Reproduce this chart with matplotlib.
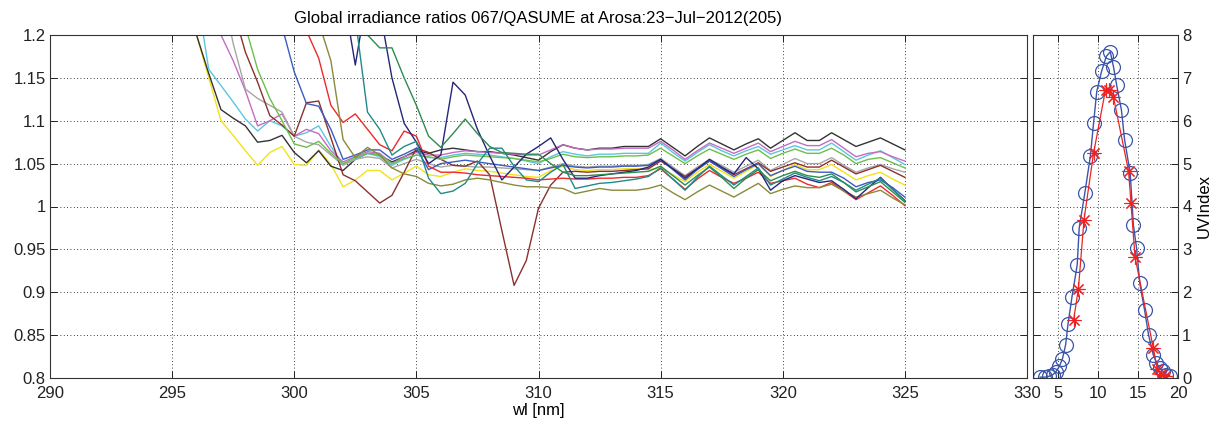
import matplotlib
matplotlib.use('Agg')
import matplotlib.pyplot as plt
from matplotlib.ticker import FormatStrFormatter
import numpy as np

plt.rcParams['font.family'] = ['Liberation Sans', 'DejaVu Sans']

# wavelength grid [nm], 0.5 nm steps (values above 1.2 are off-scale)
wl = np.arange(295.0, 325.01, 0.5)

r_yellow = [1.40, 1.30, 1.20, 1.15, 1.10, 1.083, 1.065, 1.048, 1.063, 1.070, 1.049, 1.048, 1.066, 1.049, 1.023, 1.031, 1.042, 1.042, 1.031, 1.039, 1.047, 1.037,
            1.035, 1.040, 1.044, 1.042, 1.041, 1.039, 1.037, 1.035, 1.034, 1.042, 1.047, 1.043, 1.042, 1.043, 1.043, 1.044, 1.044, 1.043, 1.045, 1.037,
            1.029, 1.040, 1.049, 1.041, 1.033, 1.041, 1.049, 1.035, 1.042, 1.049, 1.043, 1.043, 1.049, 1.040, 1.031, 1.036, 1.040, 1.032, 1.025]
r_black = [1.40, 1.30, 1.20, 1.155, 1.113, 1.103, 1.094, 1.075, 1.077, 1.083, 1.063, 1.051, 1.065, 1.047, 1.042, 1.055, 1.062, 1.060, 1.052, 1.058, 1.065, 1.062,
           1.066, 1.068, 1.066, 1.064, 1.064, 1.062, 1.060, 1.057, 1.054, 1.064, 1.072, 1.068, 1.066, 1.068, 1.068, 1.070, 1.070, 1.070, 1.079, 1.069,
           1.059, 1.070, 1.080, 1.073, 1.066, 1.073, 1.079, 1.068, 1.077, 1.086, 1.077, 1.077, 1.086, 1.078, 1.070, 1.075, 1.080, 1.073, 1.066]
r_cyan = [1.50, 1.40, 1.25, 1.16, 1.141, 1.122, 1.102, 1.088, 1.100, 1.094, 1.082, 1.086, 1.094, 1.070, 1.049, 1.055, 1.062, 1.058, 1.048, 1.055, 1.060, 1.057,
          1.057, 1.060, 1.062, 1.061, 1.060, 1.058, 1.056, 1.053, 1.050, 1.058, 1.064, 1.061, 1.059, 1.061, 1.061, 1.062, 1.062, 1.062, 1.074, 1.063,
          1.053, 1.063, 1.072, 1.065, 1.059, 1.065, 1.070, 1.061, 1.066, 1.071, 1.066, 1.066, 1.074, 1.064, 1.054, 1.060, 1.065, 1.057, 1.049]
r_magenta = [1.60, 1.50, 1.40, 1.30, 1.20, 1.170, 1.135, 1.094, 1.100, 1.108, 1.082, 1.090, 1.085, 1.065, 1.052, 1.058, 1.064, 1.062, 1.050, 1.058, 1.063, 1.060,
             1.060, 1.063, 1.065, 1.064, 1.063, 1.062, 1.061, 1.060, 1.060, 1.066, 1.072, 1.068, 1.066, 1.067, 1.067, 1.068, 1.068, 1.068, 1.076, 1.066,
             1.055, 1.065, 1.074, 1.068, 1.062, 1.068, 1.074, 1.064, 1.070, 1.076, 1.071, 1.071, 1.078, 1.068, 1.058, 1.062, 1.064, 1.058, 1.053]
r_gray = [1.60, 1.50, 1.40, 1.32, 1.26, 1.19, 1.137, 1.126, 1.118, 1.110, 1.082, 1.075, 1.072, 1.060, 1.048, 1.055, 1.058, 1.056, 1.045, 1.050, 1.055, 1.050,
          1.046, 1.048, 1.047, 1.046, 1.046, 1.045, 1.044, 1.043, 1.042, 1.046, 1.050, 1.047, 1.046, 1.047, 1.047, 1.048, 1.048, 1.049, 1.056, 1.046,
          1.036, 1.046, 1.055, 1.048, 1.040, 1.047, 1.054, 1.042, 1.049, 1.056, 1.050, 1.050, 1.057, 1.048, 1.040, 1.045, 1.049, 1.044, 1.040]
r_maroon = [1.60, 1.50, 1.45, 1.40, 1.35, 1.23, 1.18, 1.145, 1.106, 1.095, 1.082, 1.121, 1.123, 1.080, 1.037, 1.030, 1.017, 1.004, 1.013, 1.040, 1.068, 1.063,
            1.055, 1.048, 1.047, 1.053, 1.037, 0.972, 0.908, 0.937, 0.998, 1.025, 1.040, 1.041, 1.040, 1.041, 1.041, 1.042, 1.043, 1.044, 1.053, 1.044,
            1.035, 1.044, 1.053, 1.045, 1.037, 1.044, 1.051, 1.041, 1.046, 1.051, 1.046, 1.046, 1.054, 1.046, 1.038, 1.043, 1.048, 1.041, 1.034]
r_green = [1.70, 1.60, 1.50, 1.45, 1.40, 1.30, 1.21, 1.16, 1.126, 1.100, 1.073, 1.069, 1.076, 1.062, 1.050, 1.057, 1.062, 1.060, 1.050, 1.056, 1.060, 1.058,
           1.055, 1.058, 1.060, 1.059, 1.058, 1.057, 1.056, 1.054, 1.052, 1.056, 1.061, 1.058, 1.057, 1.058, 1.058, 1.059, 1.059, 1.060, 1.068, 1.059,
           1.050, 1.059, 1.067, 1.061, 1.055, 1.061, 1.066, 1.056, 1.062, 1.067, 1.062, 1.062, 1.068, 1.060, 1.050, 1.055, 1.057, 1.051, 1.045]
r_blue = [1.90, 1.80, 1.70, 1.60, 1.50, 1.45, 1.40, 1.33, 1.26, 1.21, 1.157, 1.120, 1.117, 1.090, 1.055, 1.060, 1.066, 1.066, 1.055, 1.061, 1.068, 1.043,
          1.050, 1.052, 1.054, 1.052, 1.050, 1.048, 1.046, 1.044, 1.042, 1.045, 1.048, 1.046, 1.045, 1.046, 1.046, 1.047, 1.047, 1.048, 1.055, 1.043,
          1.031, 1.043, 1.053, 1.044, 1.035, 1.043, 1.050, 1.036, 1.042, 1.047, 1.041, 1.040, 1.040, 1.033, 1.023, 1.028, 1.031, 1.022, 1.011]
r_red = [2.0, 1.9, 1.8, 1.7, 1.6, 1.5, 1.45, 1.40, 1.35, 1.30, 1.25, 1.205, 1.173, 1.118, 1.098, 1.108, 1.090, 1.072, 1.065, 1.088, 1.082, 1.047,
         1.040, 1.040, 1.039, 1.037, 1.036, 1.035, 1.034, 1.033, 1.031, 1.032, 1.033, 1.032, 1.032, 1.033, 1.033, 1.034, 1.034, 1.036, 1.044, 1.032,
         1.020, 1.032, 1.042, 1.034, 1.027, 1.033, 1.040, 1.027, 1.030, 1.033, 1.026, 1.022, 1.028, 1.018, 1.008, 1.016, 1.024, 1.013, 1.001]
r_olive = [2.1, 2.0, 1.9, 1.8, 1.7, 1.6, 1.5, 1.45, 1.40, 1.35, 1.30, 1.25, 1.215, 1.17, 1.078, 1.057, 1.069, 1.060, 1.045, 1.038, 1.035, 1.027,
           1.024, 1.026, 1.031, 1.033, 1.031, 1.028, 1.025, 1.023, 1.023, 1.022, 1.021, 1.015, 1.018, 1.021, 1.019, 1.019, 1.019, 1.021, 1.025, 1.016,
           1.008, 1.017, 1.025, 1.018, 1.011, 1.019, 1.027, 1.015, 1.020, 1.024, 1.022, 1.022, 1.026, 1.018, 1.011, 1.015, 1.019, 1.010, 1.002]
r_navy = [2.2, 2.1, 2.0, 1.9, 1.8, 1.7, 1.6, 1.5, 1.45, 1.40, 1.35, 1.30, 1.27, 1.26, 1.25, 1.165, 1.25, 1.23, 1.15, 1.097, 1.075, 1.050,
          1.060, 1.145, 1.130, 1.090, 1.059, 1.031, 1.046, 1.061, 1.070, 1.080, 1.055, 1.033, 1.033, 1.036, 1.038, 1.040, 1.042, 1.046, 1.055, 1.044,
          1.033, 1.044, 1.055, 1.046, 1.038, 1.057, 1.044, 1.019, 1.030, 1.036, 1.032, 1.028, 1.030, 1.020, 1.009, 1.022, 1.034, 1.020, 1.007]
r_teal = [2.3, 2.2, 2.1, 2.0, 1.9, 1.8, 1.7, 1.6, 1.5, 1.45, 1.40, 1.35, 1.30, 1.27, 1.24, 1.22, 1.11, 1.09, 1.06, 1.070, 1.076, 1.033,
          1.015, 1.018, 1.027, 1.050, 1.068, 1.068, 1.047, 1.031, 1.029, 1.040, 1.049, 1.021, 1.024, 1.027, 1.028, 1.030, 1.032, 1.035, 1.045, 1.032,
          1.019, 1.034, 1.047, 1.036, 1.025, 1.035, 1.045, 1.025, 1.032, 1.039, 1.034, 1.030, 1.035, 1.028, 1.019, 1.026, 1.033, 1.020, 1.007]
r_dkgreen = [2.4, 2.3, 2.2, 2.1, 2.0, 1.9, 1.8, 1.7, 1.6, 1.5, 1.45, 1.40, 1.35, 1.32, 1.29, 1.25, 1.20, 1.185, 1.185, 1.150, 1.118, 1.082,
             1.069, 1.085, 1.102, 1.085, 1.070, 1.063, 1.062, 1.061, 1.061, 1.050, 1.040, 1.036, 1.036, 1.037, 1.038, 1.039, 1.040, 1.041, 1.047, 1.036,
             1.025, 1.036, 1.046, 1.034, 1.021, 1.033, 1.043, 1.030, 1.036, 1.041, 1.036, 1.034, 1.038, 1.028, 1.017, 1.023, 1.029, 1.017, 1.005]

# UV index over the day
t_qasume = [2.7, 3.3, 3.8, 4.3, 4.7, 5.1, 5.5, 5.9, 6.2, 6.7, 7.35, 7.6, 8.3, 9.0, 9.4, 9.8, 10.4, 11.0, 11.5, 11.9,
            12.3, 12.9, 13.3, 14.0, 14.4, 14.8, 15.2, 15.8, 16.3, 16.9, 17.3, 17.7, 18.1, 18.5, 19.0]
uv_qasume = [0.02, 0.02, 0.04, 0.08, 0.15, 0.27, 0.45, 0.78, 1.27, 1.90, 2.64, 3.50, 4.31, 5.17, 5.94, 6.68, 7.15, 7.50, 7.61, 7.26,
             6.83, 6.25, 5.55, 4.78, 3.57, 3.03, 2.21, 1.59, 1.01, 0.54, 0.35, 0.23, 0.16, 0.08, 0.04]
t_067 = [6.9, 7.5, 8.2, 9.4, 10.9, 11.4, 11.9, 13.8, 14.1, 14.6, 16.9, 17.4, 17.9, 18.4]
uv_067 = [1.36, 2.08, 3.69, 5.24, 6.72, 6.72, 6.55, 4.82, 4.08, 2.83, 0.70, 0.20, 0.10, 0.05]

series = [(r_yellow, '#f2e21c'), (r_black, '#333333'), (r_cyan, '#5cc6df'), (r_magenta, '#c46cc4'),
          (r_gray, '#a6a6a6'), (r_maroon, '#8b3030'), (r_green, '#6cc04a'), (r_blue, '#3b5cc0'),
          (r_red, '#ee2a2a'), (r_olive, '#8a8a3a'), (r_navy, '#25257a'), (r_teal, '#208a8a'),
          (r_dkgreen, '#2e8b50')]

fig = plt.figure(figsize=(12.25, 4.3), dpi=100)
ax1 = fig.add_axes([50/1225, 52/430, 977/1225, 343/430])
ax2 = fig.add_axes([1033/1225, 52/430, 145/1225, 343/430])

for vals, col in series:
    ax1.plot(wl, vals, color=col, lw=1.0)

ax1.set_xlim(290, 330)
ax1.set_ylim(0.8, 1.2)
ax1.set_xticks(np.arange(290, 331, 5))
ax1.set_yticks(np.arange(0.8, 1.201, 0.05))
ax1.yaxis.set_major_formatter(FormatStrFormatter('%g'))
ax1.set_xlabel('wl [nm]', fontsize=12, labelpad=1)

ax2.plot(t_qasume, uv_qasume, color='#3a55aa', marker='o', ms=10, mfc='none', mew=0.9, lw=1.0)
ax2.plot(t_067, uv_067, color='#ee2222', marker=(8, 2, 0), ms=10, mew=0.8, lw=0.9)
ax2.set_xlim(1.8, 20)
ax2.set_ylim(0, 8)
ax2.set_xticks([5, 10, 15, 20])
ax2.set_yticks(range(0, 9))
ax2.yaxis.tick_right()
ax2.yaxis.set_label_position('right')
ax2.set_ylabel('UVIndex', fontsize=12, labelpad=4)

for ax in (ax1, ax2):
    ax.grid(True, linestyle=(0, (1, 3)), color='k', linewidth=0.6)
    ax.tick_params(direction='in', top=True, bottom=True, left=True, right=True,
                   length=5, width=0.7, labelsize=12, colors='#222222', pad=3)
    ax.tick_params(axis='x', pad=6)
    for s in ax.spines.values():
        s.set_linewidth(0.8)
        s.set_color('#333333')
ax2.tick_params(labelleft=False, labelright=True)

fig.text(538/1225, 1 - 18/430, 'Global irradiance ratios 067/QASUME at Arosa:23\u2212Jul\u22122012(205)',
         ha='center', va='center', fontsize=12)

fig.savefig('out.png', dpi=100)
